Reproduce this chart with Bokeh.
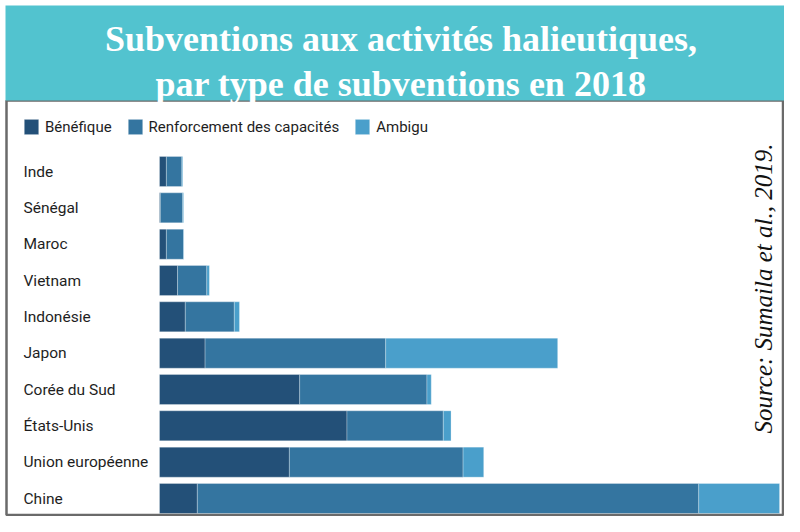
import math
from bokeh.plotting import figure
from bokeh.models import Range1d, ColumnDataSource, Label, BoxAnnotation, Legend, LegendItem
from bokeh.core.properties import value
from bokeh.embed import file_html
from bokeh.resources import INLINE

# ---- data (milliards USD) ----
categories = ["Inde", "Sénégal", "Maroc", "Vietnam", "Indonésie", "Japon",
              "Corée du Sud", "États-Unis", "Union européenne", "Chine"]
benefique = [0.08, 0.01, 0.08, 0.21, 0.30, 0.53, 1.63, 2.18, 1.51, 0.44]
renforcement = [0.18, 0.26, 0.20, 0.34, 0.57, 2.10, 1.48, 1.12, 2.02, 5.83]
ambigu = [0.01, 0.01, 0.005, 0.03, 0.06, 2.00, 0.05, 0.09, 0.24, 0.94]
series_names = ["Bénéfique", "Renforcement des capacités", "Ambigu"]
colors = ["#235078", "#3475a0", "#4a9fcb"]

title_line1 = "Subventions aux activités halieutiques,"
title_line2 = "par type de subventions en 2018"
source_text = "Source: Sumaila et al., 2019."

# ---- layout ----
W, H = 784, 516
bar_left_px = 159          # pixel where value 0 sits
px_per_unit = 86.0         # pixels per unit of value
row_step = 36.33           # pixels per row
bottom_row_px = 498        # centre of the lowest row (from top)

x0 = -bar_left_px / px_per_unit
x1 = (W - bar_left_px) / px_per_unit
y0 = -(H - bottom_row_px) / row_step
y1 = y0 + H / row_step


def px_x(px):
    return x0 + px / px_per_unit


def px_y(py):
    return y1 - py / row_step


n = len(categories)
src = ColumnDataSource(dict(
    cat=categories,
    y=[n - 1 - i for i in range(n)],
    ben=benefique,
    ren=renforcement,
    amb=ambigu,
))

p = figure(width=W, height=H, x_range=Range1d(x0, x1), y_range=Range1d(y0, y1),
           output_backend="svg", toolbar_location=None, min_border=0,
           x_axis_location=None, y_axis_location=None)
p.grid.visible = False
p.outline_line_color = None
p.background_fill_color = "white"
p.border_fill_color = "white"

renderers = p.hbar_stack(["ben", "ren", "amb"], y="y", height=30 / row_step, color=colors,
                         source=src, line_color="#ffffff", line_alpha=0.35, line_width=0.8)

p.text(x=0, y="y", text="cat", source=src, x_offset=-136, text_align="left",
       text_baseline="middle", text_font=value("Roboto"), text_font_size="15.5px",
       text_color="#1e1e1e")

legend = Legend(items=[LegendItem(label=nm, renderers=[r]) for nm, r in zip(series_names, renderers)],
                orientation="horizontal", location=(22, H - 136), padding=0, margin=0,
                spacing=14, glyph_width=18, glyph_height=19, label_standoff=5,
                label_height=19, label_text_font="Roboto", label_text_font_size="15px",
                label_text_color="#1e1e1e", border_line_color=None, background_fill_alpha=0)
p.add_layout(legend)

frame = BoxAnnotation(left=px_x(6), right=px_x(782.5), top=px_y(100), bottom=px_y(514.5),
                      fill_alpha=0, line_color="#6a6a6a", line_alpha=1.0, line_width=2.5)
p.add_layout(frame)

header = BoxAnnotation(left=px_x(5), right=px_x(W + 10), top=px_y(5), bottom=px_y(100),
                       fill_color="#52c3cf", fill_alpha=1.0, line_color=None)
p.add_layout(header)

for txt, base in [(title_line1, 38), (title_line2, 83)]:
    p.add_layout(Label(x=px_x(400.5), y=px_y(base), text=txt, text_align="center",
                       text_baseline="alphabetic", text_font="Liberation Serif",
                       text_font_style="bold", text_font_size="36px", text_color="white"))

p.add_layout(Label(x=px_x(763), y=px_y(288), text=source_text, angle=math.pi / 2,
                   text_align="center", text_baseline="middle", text_font="Liberation Serif",
                   text_font_style="italic", text_font_size="25px", text_color="#111111"))

open("out.html", "w").write(file_html(p, INLINE))
